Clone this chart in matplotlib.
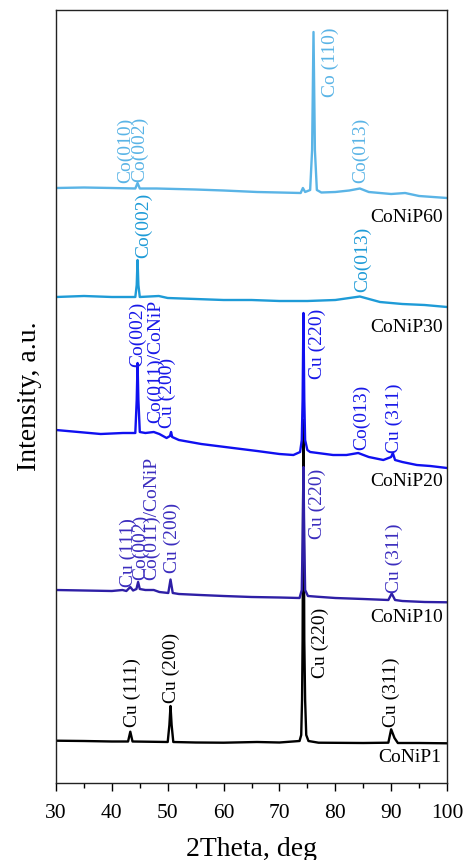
import matplotlib
matplotlib.use("Agg")
import matplotlib.pyplot as plt
from matplotlib.ticker import MultipleLocator

plt.rcParams['font.family'] = ['Liberation Serif', 'DejaVu Serif']

# ---------------- data ----------------
# CoNiP60
x60 = [30, 35, 40, 44.2, 44.6, 45.0, 48, 55, 60, 66, 70, 73.8, 74.2, 74.6, 75.5,
       75.85, 76.1, 76.35, 76.7, 77.5, 80, 82.5, 84.4, 86, 90, 92.5, 95, 100]
i60 = [595, 595.5, 595, 594.5, 600, 594.5, 594.5, 593.5, 592.5, 591, 590.5, 590, 595, 591, 593,
       633, 751, 633, 593, 590.5, 591, 592.5, 594.5, 591, 589, 590, 587, 585]
# CoNiP30
x30 = [30, 35, 40, 44.2, 44.45, 44.6, 44.75, 45.0, 48.4, 50, 55, 60, 65, 70, 75, 80,
       84.4, 88, 92, 96, 100]
i30 = [486, 487, 486, 486, 498, 523, 498, 486, 487, 485, 484, 483, 483, 482, 482, 483,
       486.5, 481, 479, 478, 476]
# CoNiP20
x20 = [30, 34, 38, 42, 44.2, 44.45, 44.6, 44.75, 45.0, 46, 47.5, 48.5, 49.8, 50.4, 50.6,
       50.8, 52, 56, 61.7, 66, 70, 72.5, 73.7, 74.0, 74.15, 74.3, 74.45, 74.6, 75.0, 75.5,
       79.6, 82, 84.1, 86, 88.6, 90.0, 90.3, 90.7, 92, 94.6, 97, 100]
i20 = [353, 351, 349, 350, 350, 383, 420, 383, 351, 350, 351, 349, 345, 347, 351,
       346, 343, 339, 335, 332, 329, 328, 331, 343, 383, 470, 383, 343, 333, 331,
       328, 328, 330, 326, 323, 326, 330, 323, 321, 318, 317, 315]
# CoNiP10
x10 = [30, 35, 40, 41.9, 42.6, 43.3, 43.8, 44.4, 44.7, 45.0, 46, 47.5, 48.5, 50.1, 50.5,
       50.9, 52, 55.8, 60, 65, 70, 73.6, 74.0, 74.15, 74.3, 74.45, 74.6, 75.1, 76.7, 80,
       85, 89.5, 90.1, 90.7, 92, 96, 100]
i10 = [193, 192.5, 192, 193, 192, 196, 192.5, 194, 201, 194, 193, 193, 191, 190, 203.5,
       190, 189, 188, 187, 186, 185.5, 185, 193, 243, 316, 243, 193, 187, 186.3, 185,
       184, 183, 189.5, 183, 182, 181, 180.7]
# CoNiP1
x1 = [30, 35, 40, 42.9, 43.3, 43.7, 50.0, 50.3, 50.5, 50.7, 51.0, 55, 60, 66, 70, 73.6,
      73.9, 74.05, 74.15, 74.3, 74.45, 74.6, 74.8, 75.2, 77, 85, 89.5, 90.0, 90.6, 91.2,
      95, 100]
i1 = [42.3, 42, 41.5, 41.5, 51.3, 41.5, 41, 58, 77, 58, 41, 40.5, 40.3, 41, 40.5, 42,
      48, 83, 143, 363, 143, 83, 48, 42, 40.3, 40, 40.3, 53.7, 45, 40,
      40, 39.7]

samples = ['CoNiP60', 'CoNiP30', 'CoNiP20', 'CoNiP10', 'CoNiP1']
sample_label_x = [99.3, 99.3, 99.3, 99.3, 98.9]
sample_label_i = [566, 456, 301, 165, 25]

# peak annotations: (text, 2theta, intensity of label bottom)
labels60 = [('Co(010)', 42.4, 600), ('Co(002)', 45.0, 601), ('Co (110)', 79.05, 686),
            ('Co(013)', 84.6, 600)]
labels30 = [('Co(002)', 45.7, 525), ('Co(013)', 84.8, 491)]
labels20 = [('Co(002)', 44.6, 416), ('Co(011)/CoNiP', 47.9, 360), ('Cu (200)', 50.0, 355),
            ('Cu (220)', 76.7, 404), ('Co(013)', 84.7, 333), ('Cu (311)', 90.5, 330)]
labels10 = [('Cu (111)', 42.9, 196), ('Co(002)', 45.2, 203), ('Co(011)/CoNiP', 47.2, 203),
            ('Cu (200)', 50.8, 210), ('Cu (220)', 76.8, 244), ('Cu (311)', 90.5, 190)]
labels1 = [('Cu (111)', 43.7, 56), ('Cu (200)', 50.7, 80), ('Cu (220)', 77.4, 105),
           ('Cu (311)', 90.1, 56)]

# ---------------- styling ----------------
line_colors = ['#5AB4E6', '#1E9BD7', '#1010F0', '#2E1FA6', '#000000']
text_colors = ['#5AB4E6', '#1E9BD7', '#1818E8', '#3B2DBE', '#000000']

fig = plt.figure(figsize=(4.66, 8.6), dpi=100)
ax = fig.add_axes([56 / 466, 77 / 860, 391 / 466, 773.5 / 860])

series = [(x1, i1), (x10, i10), (x20, i20), (x30, i30), (x60, i60)]
cols = line_colors[::-1]
for (xs, ys), c in zip(series, cols):
    ax.plot(xs, ys, color=c, lw=1.7, solid_joinstyle='round')

all_labels = [labels60, labels30, labels20, labels10, labels1]
for labs, tc in zip(all_labels, text_colors):
    for t, xv, yv in labs:
        ax.text(xv, yv, t, rotation=90, ha='center', va='bottom', color=tc, fontsize=14)

for s, xv, yv in zip(samples, sample_label_x, sample_label_i):
    ax.text(xv, yv, s, ha='right', va='center', color='black', fontsize=14)

ax.set_xlim(30, 100)
ax.set_ylim(0, 773.5)
ax.set_yticks([])
ax.xaxis.set_major_locator(MultipleLocator(10))
ax.xaxis.set_minor_locator(MultipleLocator(5))
ax.tick_params(axis='x', which='major', direction='out', length=6, width=1, labelsize=15.5, pad=9)
ax.tick_params(axis='x', which='minor', direction='out', length=3.5, width=1)
for sp in ax.spines.values():
    sp.set_linewidth(1.0)
    sp.set_color('#222222')

ax.set_xlabel('2Theta, deg', fontsize=20, labelpad=10)
ax.set_ylabel('Intensity, a.u.', fontsize=20)
ax.yaxis.set_label_coords(-0.035, 0.5)

fig.savefig('out.png', dpi=100)
